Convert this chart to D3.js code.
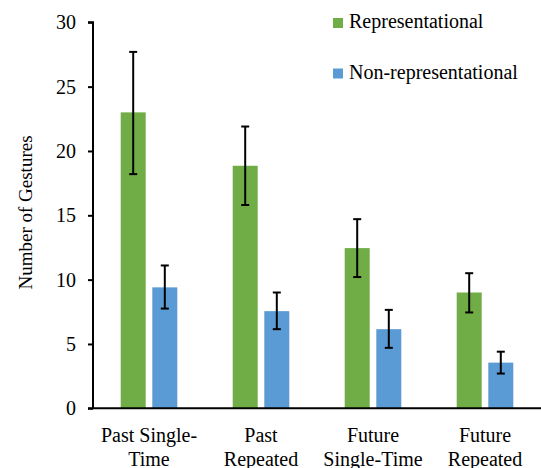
<!DOCTYPE html>
<html><head><meta charset="utf-8">
<script src="https://cdn.jsdelivr.net/npm/d3@7"></script>
<style>body{margin:0;background:#fff}svg{display:block}</style>
</head><body><svg id="c" width="541" height="468"></svg>
<script>
const categories = [["Past Single-","Time"],["Past","Repeated"],["Future","Single-Time"],["Future","Repeated"]];
const seriesNames = ["Representational","Non-representational"];
const seriesColors = ["#70AD47","#5B9BD5"];
const repValues = [23.0, 18.85, 12.45, 9.0];
const repLow = [18.2, 15.8, 10.2, 7.45];
const repHigh = [27.7, 21.9, 14.7, 10.5];
const nonValues = [9.4, 7.55, 6.15, 3.55];
const nonLow = [7.75, 6.15, 4.7, 2.7];
const nonHigh = [11.1, 9.0, 7.65, 4.4];
const yTicks = [0,5,10,15,20,25,30];

const FONT = "'Liberation Serif', 'Times New Roman', Times, serif";
const svg = d3.select("#c");
const y = d3.scaleLinear().domain([0,30]).range([408.3, 22.3]);
const x = d3.scaleBand().domain(d3.range(categories.length)).range([93, 541]).paddingInner(0).paddingOuter(0);
const barW = 25, gap = 6.6;

const series = [
  {vals: repValues, lo: repLow, hi: repHigh},
  {vals: nonValues, lo: nonLow, hi: nonHigh}
];

const g = svg.append("g");
series.forEach((s, si) => {
  const off = si === 0 ? -(barW + gap/2) : gap/2;
  s.vals.forEach((v, i) => {
    const cx = x(i) + x.bandwidth()/2 + off;
    g.append("rect").attr("x", cx).attr("y", y(v)).attr("width", barW).attr("height", y(0) - y(v)).attr("fill", seriesColors[si]);
  });
});
series.forEach((s, si) => {
  const off = si === 0 ? -(barW + gap/2) : gap/2;
  s.vals.forEach((v, i) => {
    const mx = x(i) + x.bandwidth()/2 + off + barW/2;
    g.append("line").attr("x1", mx).attr("x2", mx).attr("y1", y(s.lo[i])).attr("y2", y(s.hi[i])).attr("stroke","#000").attr("stroke-width",2);
    [s.lo[i], s.hi[i]].forEach(e => {
      g.append("line").attr("x1", mx-4).attr("x2", mx+4).attr("y1", y(e)).attr("y2", y(e)).attr("stroke","#000").attr("stroke-width",2);
    });
  });
});

// y axis
const ya = svg.append("g").attr("transform","translate(93,0)")
  .call(d3.axisLeft(y).tickValues(yTicks).tickSize(5).tickPadding(12).tickFormat(d3.format("d")));
ya.attr("font-family", FONT).attr("font-size", 20);
ya.select(".domain").attr("stroke","#000").attr("stroke-width",2).attr("d", `M-5,${y(30)}H0V${y(0)}`);
ya.selectAll(".tick line").attr("stroke","#000").attr("stroke-width",2);
ya.selectAll(".tick text").style("font-family", FONT).style("font-size", "20px").attr("fill","#000");

// x axis line
svg.append("line").attr("x1", 88).attr("x2", 541).attr("y1", y(0)).attr("y2", y(0)).attr("stroke","#000").attr("stroke-width",2);

// x labels
categories.forEach((c, i) => {
  const t = svg.append("text").attr("text-anchor","middle").style("font-size", "20px").style("font-family", FONT)
    .attr("x", x(i) + x.bandwidth()/2);
  c.forEach((line, li) => {
    t.append("tspan").attr("x", x(i) + x.bandwidth()/2).attr("y", 442 + li*23.5).text(line);
  });
});

// y title
svg.append("text").attr("transform", "translate(32,212.5) rotate(-90)").attr("text-anchor","middle").style("font-size", "19px").style("font-family", FONT).text("Number of Gestures");

// legend
seriesNames.forEach((n, i) => {
  const ly = 18 + i*50.5;
  svg.append("rect").attr("x", 333).attr("y", ly).attr("width", 10).attr("height", 10).attr("fill", seriesColors[i]);
  svg.append("text").attr("x", 349).attr("y", ly + 10).style("font-size", "20px").style("font-family", FONT).text(n);
});
</script></body></html>
